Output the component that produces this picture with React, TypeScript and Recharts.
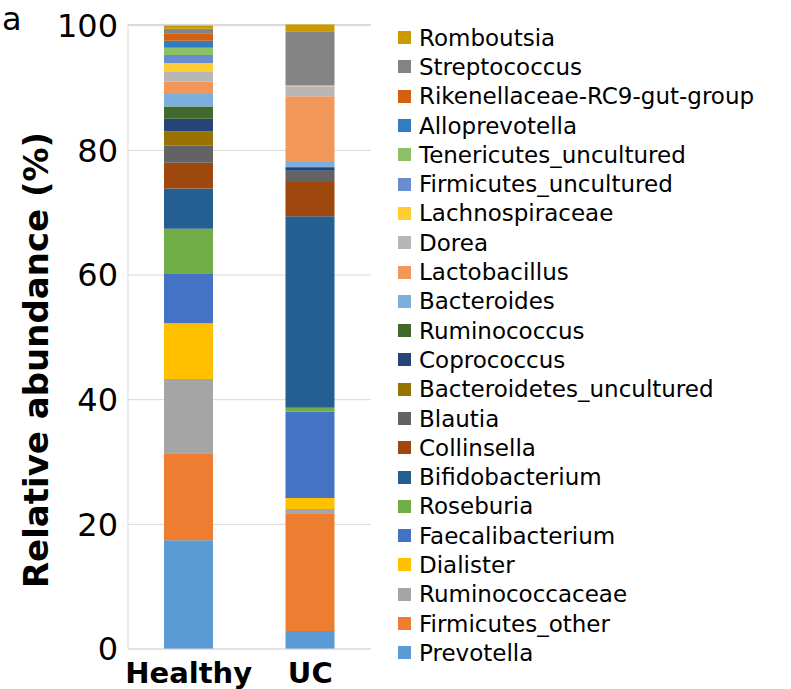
import { BarChart, Bar, XAxis, YAxis, CartesianGrid } from 'recharts';

const groups = ['Healthy', 'UC'];

// bottom of the stack first
const taxa = [
  'Prevotella',
  'Firmicutes_other',
  'Ruminococcaceae',
  'Dialister',
  'Faecalibacterium',
  'Roseburia',
  'Bifidobacterium',
  'Collinsella',
  'Blautia',
  'Bacteroidetes_uncultured',
  'Coprococcus',
  'Ruminococcus',
  'Bacteroides',
  'Lactobacillus',
  'Dorea',
  'Lachnospiraceae',
  'Firmicutes_uncultured',
  'Tenericutes_uncultured',
  'Alloprevotella',
  'Rikenellaceae-RC9-gut-group',
  'Streptococcus',
  'Romboutsia',
];

const healthy = [17.45, 13.95, 11.9, 8.97, 8.0, 7.15, 6.45, 4.16, 2.72, 2.3, 2.02, 1.97, 1.98, 1.97, 1.7, 1.34, 1.28, 1.17, 1.12, 1.17, 0.75, 0.5];
const uc = [2.88, 18.9, 0.69, 1.76, 13.82, 0.65, 30.73, 5.5, 1.76, 0.05, 0.53, 0.05, 0.8, 10.57, 1.6, 0.1, 0, 0, 0, 0, 8.7, 1.1];

const colors = [
  '#5B9BD5', '#ED7D31', '#A5A5A5', '#FFC000', '#4472C4', '#70AD47',
  '#255E91', '#9E480E', '#636363', '#997300', '#264478', '#43682B',
  '#7CAFDD', '#F1975A', '#B7B7B7', '#FFCD33', '#698ED0', '#8CC168',
  '#327DC2', '#D26012', '#848484', '#CC9A00',
];

const yTicks = [0, 20, 40, 60, 80, 100];

const data = groups.map((g, gi) => {
  const row: Record<string, string | number> = { name: g };
  const vals = gi === 0 ? healthy : uc;
  taxa.forEach((t, i) => {
    row[t] = vals[i];
  });
  return row;
});

const font = 'DejaVu Sans, Verdana, sans-serif';

function SideLegend() {
  const idx = taxa.map((_, i) => i).reverse();
  return (
    <div style={{ position: 'absolute', left: 398, top: 23, fontFamily: font, fontSize: 23, color: '#000' }}>
      {idx.map((i) => (
        <div key={taxa[i]} style={{ display: 'flex', alignItems: 'center', height: 29.3, whiteSpace: 'nowrap' }}>
          <span style={{ width: 13, height: 13, background: colors[i], display: 'inline-block', marginRight: 8 }} />
          <span>{taxa[i]}</span>
        </div>
      ))}
    </div>
  );
}

export default function App() {
  return (
    <div style={{ position: 'absolute', left: 0, top: 0, width: 791, height: 689, background: '#fff' }}>
      <BarChart
        width={791}
        height={689}
        data={data}
        margin={{ top: 24.5, right: 420, bottom: 0, left: 0 }}
        barSize={49}
      >
        <CartesianGrid vertical={false} stroke="#d9d9d9" />
        <XAxis
          dataKey="name"
          height={40}
          stroke="#d9d9d9"
          tickLine={false}
          tickSize={0}
          tickMargin={13}
          tick={{ fill: '#000', fontSize: 29, fontWeight: 'bold', fontFamily: font }}
        />
        <YAxis
          width={128}
          domain={[0, 100]}
          ticks={yTicks}
          stroke="#d9d9d9"
          tickLine={false}
          tickSize={0}
          tickMargin={10}
          tick={{ fill: '#000', fontSize: 32, fontFamily: font }}
        />
        {taxa.map((t, i) => (
          <Bar key={t} dataKey={t} stackId="a" fill={colors[i]} isAnimationActive={false} />
        ))}
      </BarChart>
      <SideLegend />
      <svg width={791} height={689} style={{ position: 'absolute', left: 0, top: 0, pointerEvents: 'none' }}>
        <text x={2} y={30} fontSize={32} fontFamily={font} fill="#000">a</text>
        <text
          transform="translate(48,360) rotate(-90)"
          textAnchor="middle"
          fontSize={34}
          fontWeight="bold"
          fontFamily={font}
          fill="#000"
        >
          Relative abundance (%)
        </text>
      </svg>
    </div>
  );
}
